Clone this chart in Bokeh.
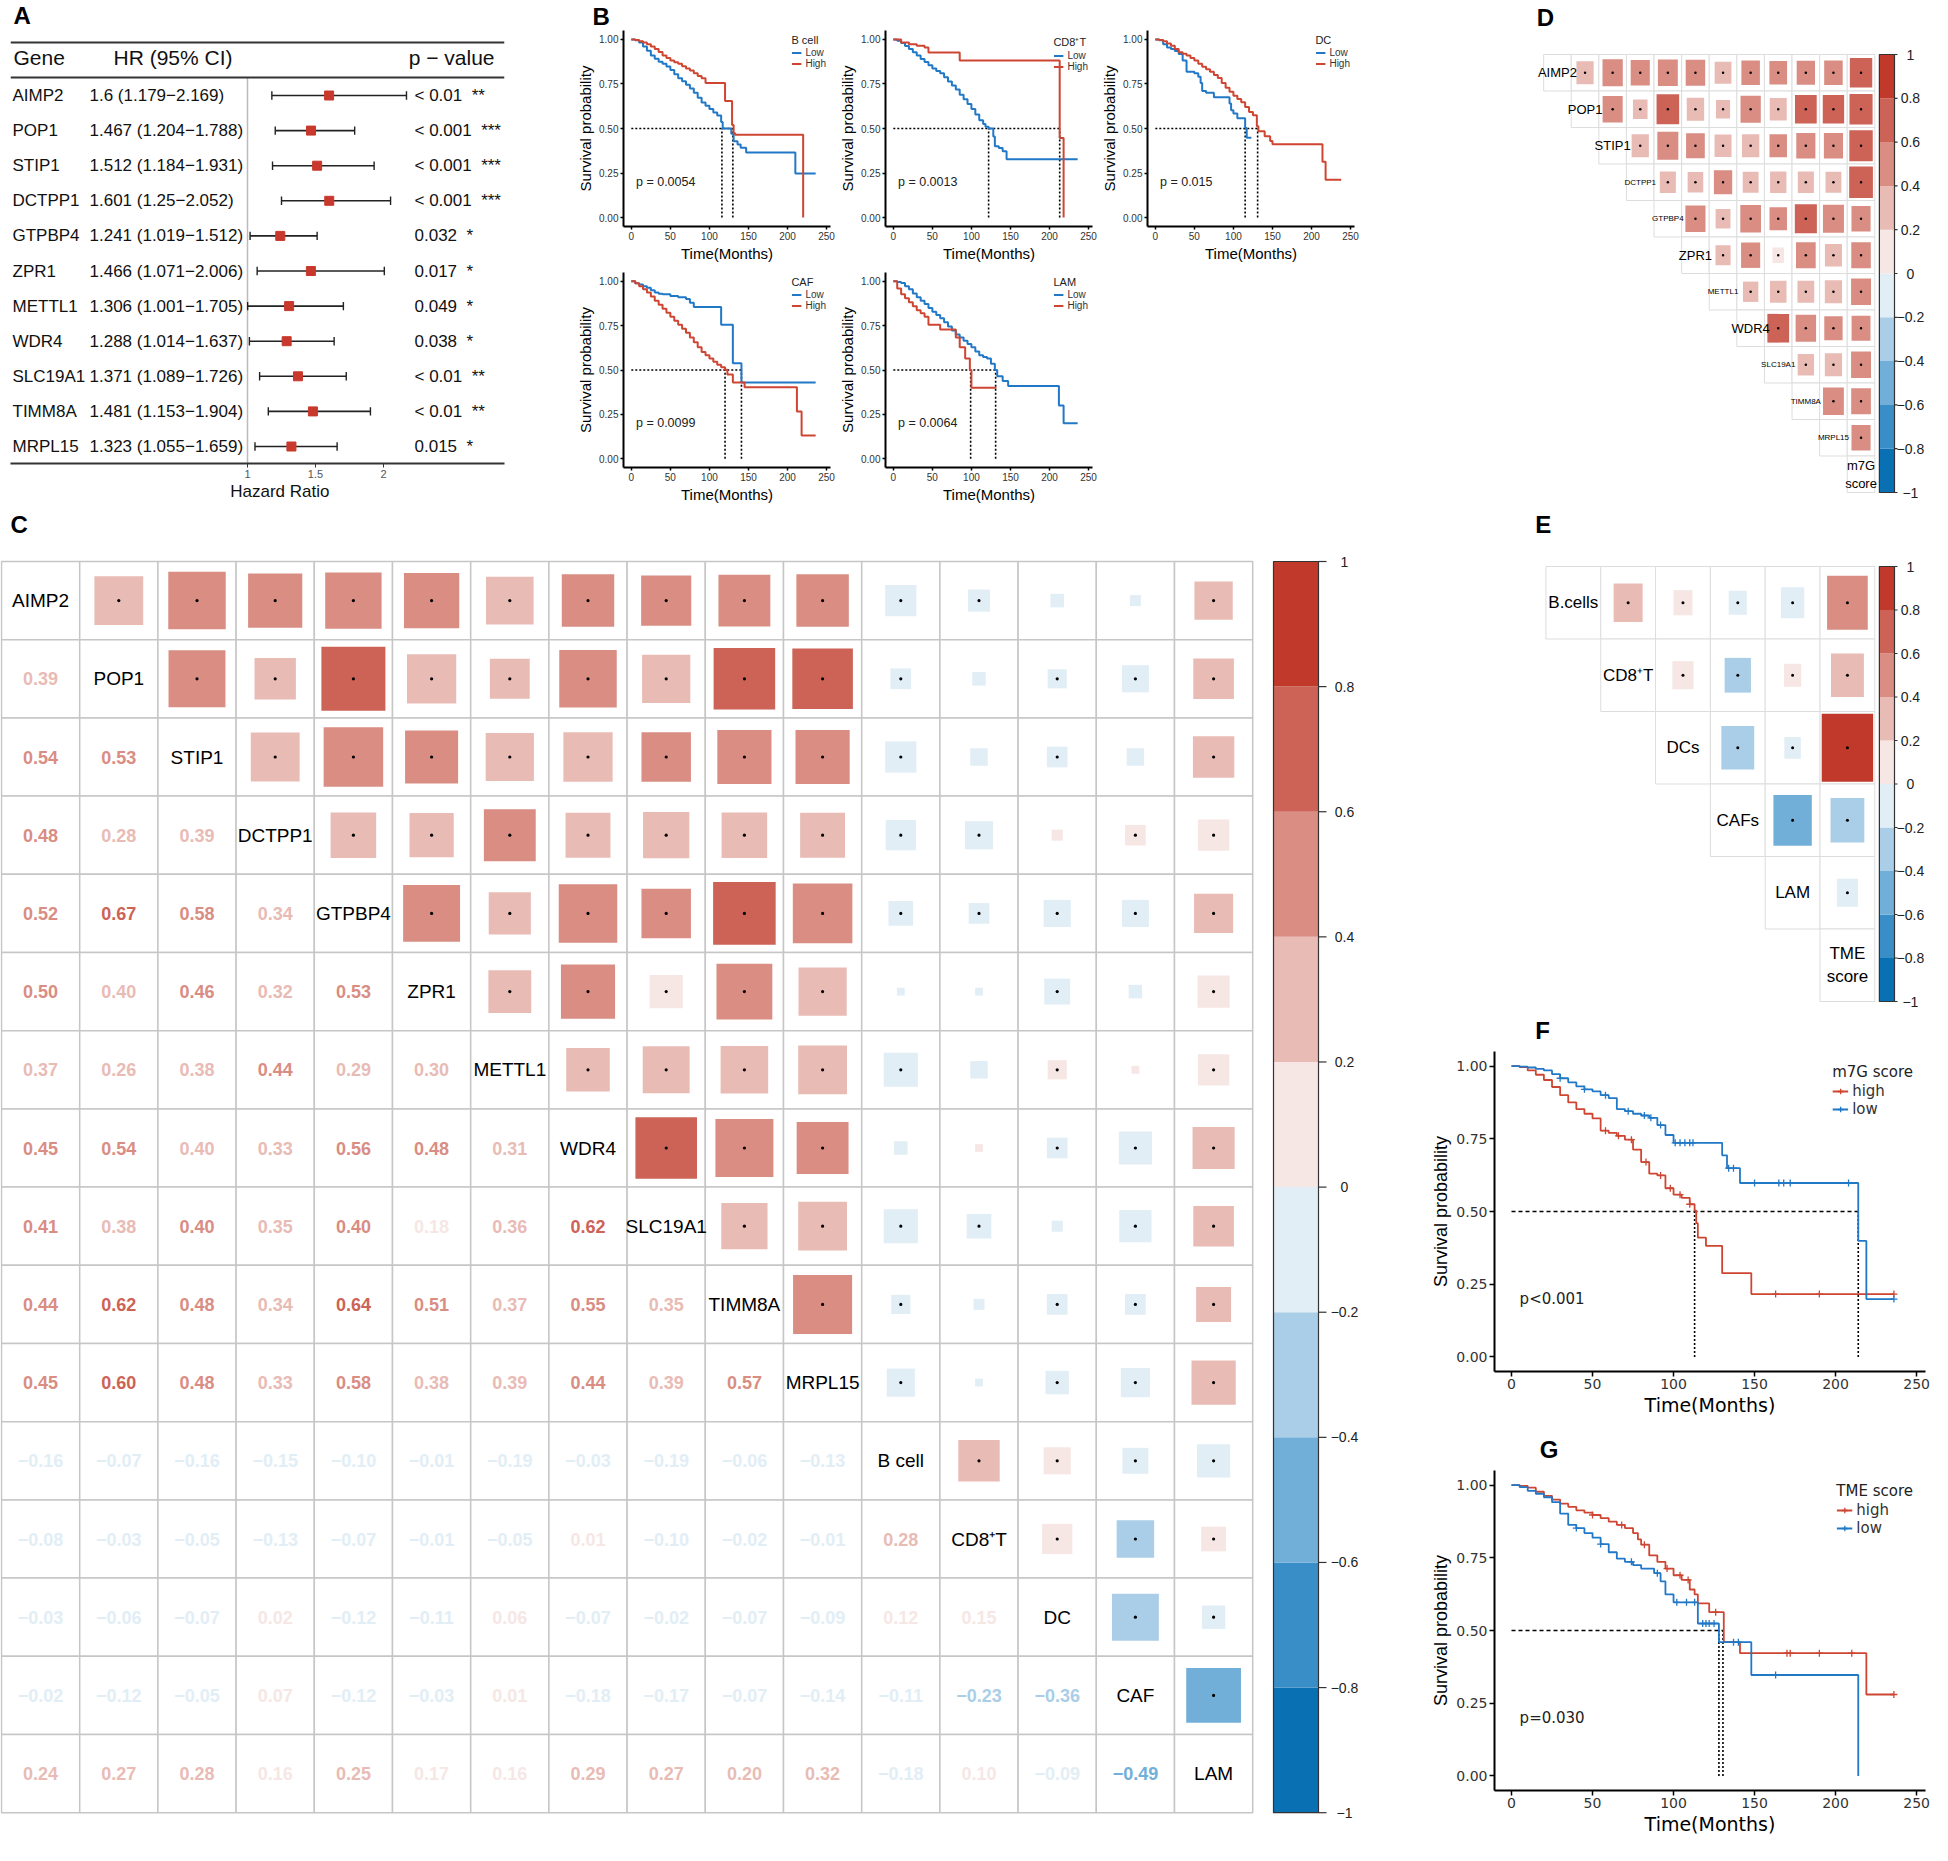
import numpy as np
from bokeh.plotting import figure
from bokeh.models import Range1d, FixedTicker, PrintfTickFormatter, Legend, LegendItem, Span
from bokeh.layouts import row, column
from bokeh.embed import file_html
from bokeh.resources import INLINE
from bokeh.core.properties import value

SANS = "Liberation Sans"
WIDE = "DejaVu Sans"
RED = "#CE4532"
BLUE = "#2178C6"

# ============================ DATA ============================
# Panel A (forest plot)
genes = ["AIMP2", "POP1", "STIP1", "DCTPP1", "GTPBP4", "ZPR1", "METTL1", "WDR4", "SLC19A1", "TIMM8A", "MRPL15"]
hr = [1.6, 1.467, 1.512, 1.601, 1.241, 1.466, 1.306, 1.288, 1.371, 1.481, 1.323]
hr_low = [1.179, 1.204, 1.184, 1.25, 1.019, 1.071, 1.001, 1.014, 1.089, 1.153, 1.055]
hr_high = [2.169, 1.788, 1.931, 2.052, 1.512, 2.006, 1.705, 1.637, 1.726, 1.904, 1.659]
p_labels = ["< 0.01", "< 0.001", "< 0.001", "< 0.001", "0.032", "0.017", "0.049", "0.038", "< 0.01", "< 0.01", "0.015"]
p_stars = ["**", "***", "***", "***", "*", "*", "*", "*", "**", "**", "*"]
hr_ticks = [1, 1.5, 2]

# Panel B (Kaplan-Meier by cell type), (time, survival) step points
km_bcell_low = ([0, 5, 10, 15, 20, 25, 30, 35, 40, 45, 50, 55, 60, 65, 70, 75, 80, 85, 90, 95, 100, 105, 110, 115, 117, 128, 131, 136, 140, 147, 210, 236],
                [1.0, 0.995, 0.982, 0.96, 0.936, 0.91, 0.891, 0.875, 0.864, 0.848, 0.828, 0.805, 0.782, 0.765, 0.746, 0.724, 0.70, 0.672, 0.646, 0.628, 0.61, 0.59, 0.573, 0.537, 0.50, 0.47, 0.428, 0.41, 0.392, 0.365, 0.247, 0.247])
km_bcell_high = ([0, 5, 10, 15, 20, 25, 30, 35, 40, 45, 50, 55, 60, 65, 70, 75, 80, 85, 90, 95, 120, 129, 131, 133, 220],
                 [1.0, 0.997, 0.99, 0.982, 0.973, 0.96, 0.946, 0.93, 0.91, 0.895, 0.882, 0.872, 0.864, 0.85, 0.837, 0.825, 0.81, 0.795, 0.782, 0.755, 0.655, 0.52, 0.474, 0.465, 0.0])
km_cd8_low = ([0, 5, 10, 15, 20, 25, 30, 35, 40, 45, 50, 55, 60, 65, 70, 75, 80, 85, 90, 95, 100, 105, 110, 115, 118, 122, 128, 130, 135, 140, 145, 236],
              [1.0, 0.993, 0.98, 0.963, 0.946, 0.928, 0.91, 0.89, 0.873, 0.855, 0.837, 0.823, 0.81, 0.787, 0.764, 0.742, 0.719, 0.69, 0.664, 0.637, 0.61, 0.578, 0.546, 0.525, 0.51, 0.50, 0.455, 0.40, 0.39, 0.373, 0.328, 0.328])
km_cd8_high = ([0, 10, 20, 30, 40, 45, 85, 213, 218],
               [1.0, 0.982, 0.973, 0.964, 0.955, 0.927, 0.882, 0.446, 0.0])
km_dc_low = ([0, 5, 10, 15, 20, 25, 30, 35, 40, 50, 55, 58, 60, 65, 75, 95, 97, 100, 105, 115, 117, 123],
             [1.0, 0.995, 0.973, 0.955, 0.946, 0.935, 0.918, 0.882, 0.819, 0.81, 0.79, 0.755, 0.71, 0.70, 0.675, 0.64, 0.602, 0.584, 0.557, 0.503, 0.448, 0.448])
km_dc_high = ([0, 5, 10, 15, 20, 25, 30, 35, 40, 45, 50, 55, 60, 65, 70, 75, 80, 85, 90, 95, 100, 105, 110, 115, 120, 125, 130, 132, 140, 147, 150, 214, 218, 238],
              [1.0, 0.997, 0.99, 0.977, 0.964, 0.946, 0.928, 0.92, 0.91, 0.896, 0.882, 0.864, 0.846, 0.832, 0.819, 0.80, 0.783, 0.756, 0.729, 0.706, 0.684, 0.665, 0.647, 0.62, 0.593, 0.575, 0.512, 0.485, 0.457, 0.43, 0.412, 0.313, 0.213, 0.213])
km_caf_low = ([0, 5, 10, 15, 20, 25, 30, 35, 40, 50, 60, 70, 75, 80, 115, 130, 141, 236],
              [1.0, 0.99, 0.982, 0.973, 0.964, 0.95, 0.937, 0.93, 0.928, 0.918, 0.91, 0.90, 0.88, 0.855, 0.755, 0.538, 0.43, 0.43])
km_caf_high = ([0, 5, 10, 15, 20, 25, 30, 35, 40, 45, 50, 55, 60, 65, 70, 75, 80, 85, 90, 95, 100, 105, 110, 115, 120, 123, 130, 145, 212, 218, 236],
               [1.0, 0.99, 0.973, 0.955, 0.937, 0.914, 0.891, 0.868, 0.846, 0.823, 0.80, 0.778, 0.755, 0.732, 0.71, 0.683, 0.656, 0.628, 0.601, 0.583, 0.565, 0.547, 0.529, 0.515, 0.502, 0.475, 0.43, 0.402, 0.266, 0.13, 0.13])
km_lam_low = ([0, 5, 10, 15, 20, 25, 30, 35, 40, 45, 50, 55, 60, 65, 70, 75, 80, 85, 90, 95, 100, 105, 110, 115, 120, 125, 130, 133, 140, 147, 212, 218, 236],
              [1.0, 0.997, 0.991, 0.973, 0.955, 0.932, 0.91, 0.891, 0.873, 0.85, 0.828, 0.81, 0.792, 0.77, 0.746, 0.723, 0.70, 0.683, 0.665, 0.647, 0.628, 0.605, 0.583, 0.574, 0.565, 0.535, 0.50, 0.465, 0.438, 0.41, 0.30, 0.20, 0.20])
km_lam_high = ([0, 5, 10, 15, 20, 25, 30, 35, 40, 45, 60, 80, 85, 92, 98, 100, 132],
               [1.0, 0.96, 0.928, 0.905, 0.882, 0.86, 0.837, 0.82, 0.80, 0.755, 0.728, 0.683, 0.628, 0.565, 0.50, 0.40, 0.40])
b_titles = ["B cell", "CD8\u207aT", "DC", "CAF", "LAM"]
b_pvalues = ["p = 0.0054", "p = 0.0013", "p = 0.015", "p = 0.0099", "p = 0.0064"]
b_medians = [[116, 130], [122, 213], [115, 131], [120, 141], [99, 131]]

# Panel C (correlation matrix, lower triangle)
c_vars = genes + ["B cell", "CD8\u207aT", "DC", "CAF", "LAM"]
c_lower = [
    [],
    [0.39],
    [0.54, 0.53],
    [0.48, 0.28, 0.39],
    [0.52, 0.67, 0.58, 0.34],
    [0.50, 0.397, 0.46, 0.32, 0.53],
    [0.37, 0.26, 0.38, 0.44, 0.29, 0.30],
    [0.45, 0.54, 0.397, 0.33, 0.56, 0.48, 0.31],
    [0.41, 0.38, 0.40, 0.35, 0.40, 0.18, 0.36, 0.62],
    [0.44, 0.62, 0.48, 0.34, 0.64, 0.51, 0.37, 0.55, 0.35],
    [0.45, 0.60, 0.48, 0.33, 0.58, 0.38, 0.39, 0.44, 0.39, 0.57],
    [-0.16, -0.07, -0.16, -0.15, -0.10, -0.01, -0.19, -0.03, -0.19, -0.06, -0.13],
    [-0.08, -0.03, -0.05, -0.13, -0.07, -0.01, -0.05, 0.01, -0.10, -0.02, -0.01, 0.28],
    [-0.03, -0.06, -0.07, 0.02, -0.12, -0.11, 0.06, -0.07, -0.02, -0.07, -0.09, 0.12, 0.15],
    [-0.02, -0.12, -0.05, 0.07, -0.12, -0.03, 0.01, -0.18, -0.17, -0.07, -0.14, -0.11, -0.23, -0.36],
    [0.24, 0.27, 0.28, 0.16, 0.25, 0.17, 0.16, 0.29, 0.27, 0.20, 0.32, -0.18, 0.10, -0.09, -0.49],
]
c_sig_min = 0.055

# Panel D (genes vs m7G score)
d_vars = genes + ["m7G\nscore"]
m7g_corr = [0.66, 0.70, 0.72, 0.74, 0.48, 0.50, 0.52, 0.47, 0.52, 0.51, 0.48]

# Panel E (cells vs TME score)
e_vars = ["B.cells", "CD8\u207aT", "DCs", "CAFs", "LAM", "TME\nscore"]
e_lower = [
    [],
    [0.28],
    [0.12, 0.15],
    [-0.11, -0.23, -0.36],
    [-0.18, 0.10, -0.09, -0.49],
    [0.55, 0.36, 0.88, -0.38, -0.15],
]

# Colour scale
palette = ["#0A70B4", "#3A8EC8", "#72AFD8", "#AACEE7", "#E2EEF6", "#F6E7E5", "#E9BBB5", "#D98D83", "#CD6356", "#C0392B"]
cb_ticks = [1, 0.8, 0.6, 0.4, 0.2, 0, -0.2, -0.4, -0.6, -0.8, -1]

# Panel F (m7G score)
km_m7g_high = ([0, 5, 10, 15, 20, 25, 30, 35, 40, 45, 50, 55, 60, 65, 70, 75, 80, 85, 90, 95, 100, 105, 110, 113, 114, 115, 120, 130, 148, 236],
               [1.0, 0.996, 0.985, 0.97, 0.952, 0.928, 0.90, 0.875, 0.852, 0.836, 0.82, 0.778, 0.77, 0.76, 0.747, 0.713, 0.67, 0.63, 0.624, 0.58, 0.558, 0.547, 0.525, 0.503, 0.46, 0.41, 0.382, 0.288, 0.216, 0.216])
km_m7g_low = ([0, 5, 10, 15, 20, 25, 30, 35, 40, 45, 50, 55, 60, 65, 70, 75, 80, 85, 90, 95, 100, 130, 133, 141, 214, 219, 236],
              [1.0, 0.998, 0.995, 0.99, 0.985, 0.972, 0.958, 0.944, 0.93, 0.92, 0.913, 0.90, 0.89, 0.852, 0.845, 0.836, 0.83, 0.822, 0.797, 0.763, 0.736, 0.693, 0.649, 0.598, 0.399, 0.199, 0.199])
cens_m7g_high = [58, 66, 74, 83, 92, 98, 104, 110, 163, 190, 236]
cens_m7g_low = [30, 45, 58, 72, 82, 86, 92, 101, 104, 107, 110, 112, 134, 137, 150, 165, 168, 172, 208, 236]
f_medians = [113, 214]

# Panel G (TME score)
km_tme_high = ([0, 5, 10, 15, 20, 25, 30, 35, 40, 45, 50, 55, 60, 65, 70, 75, 78, 80, 85, 90, 95, 100, 105, 110, 113, 115, 122, 131, 141, 219, 236],
               [1.0, 0.997, 0.991, 0.977, 0.963, 0.95, 0.936, 0.925, 0.913, 0.905, 0.897, 0.886, 0.874, 0.863, 0.852, 0.835, 0.813, 0.795, 0.758, 0.736, 0.713, 0.69, 0.674, 0.641, 0.624, 0.593, 0.563, 0.46, 0.422, 0.28, 0.28])
km_tme_low = ([0, 5, 10, 15, 20, 25, 30, 35, 40, 45, 50, 55, 60, 65, 70, 75, 80, 88, 92, 95, 100, 115, 128, 148, 214],
              [1.0, 0.993, 0.98, 0.97, 0.958, 0.941, 0.902, 0.863, 0.852, 0.835, 0.819, 0.797, 0.769, 0.747, 0.736, 0.725, 0.713, 0.697, 0.669, 0.624, 0.597, 0.524, 0.46, 0.347, 0.0])
cens_tme_high = [50, 68, 82, 96, 104, 109, 126, 170, 172, 190, 210, 236]
cens_tme_low = [40, 55, 74, 90, 102, 108, 113, 118, 120, 122, 125, 137, 140, 163]
g_medians = [128, 130.5]

km_xticks = [0, 50, 100, 150, 200, 250]
km_yticks = [0, 0.25, 0.5, 0.75, 1.0]


# ============================ HELPERS ============================
def lin(p0, p1, v0, v1):
    s = (v1 - v0) / (p1 - p0)
    return lambda px: v0 + (px - p0) * s


def base_fig(W, H, xr, yr, **kw):
    p = figure(width=W, height=H, x_range=Range1d(*xr), y_range=Range1d(*yr),
               toolbar_location=None, output_backend="svg", **kw)
    p.grid.visible = False
    p.outline_line_color = None
    return p


def txt(p, x, y, t, size, font=SANS, align="left", color="#111111", style="normal", baseline="middle"):
    p.text(x=x, y=y, text=t, text_font=value(font), text_font_size=size, text_align=align,
           text_baseline=baseline, text_color=color, text_font_style=style)


def letter(p, x, y, t):
    txt(p, [x], [y], [t], "24px", color="black", style="bold")


def strip(W, H):
    # a blank canvas whose data units are pixels, used for panel letters / free labels
    return base_fig(W, H, (0, W), (H, 0), min_border=0, x_axis_location=None, y_axis_location=None)


def corr_color(r):
    k = int(np.floor((r + 1.0) / 0.2 + 1e-9))
    return palette[min(max(k, 0), len(palette) - 1)]


def fmt(v, spec):
    return format(v, spec).replace("-", "\u2212")


def sym(lower):
    n = len(lower)
    M = np.eye(n)
    for i, vals in enumerate(lower):
        for j, v in enumerate(vals):
            M[i, j] = M[j, i] = v
    return M


def draw_corr(p, names, M, full_grid, grid_color, grid_w, name_sizes, dot_size, sig_min, numbers=None):
    n = len(names)
    gx, gy = [], []
    for i in range(n):
        for j in range(n):
            if full_grid or j >= i:
                gx.append(j + 0.5)
                gy.append(i + 0.5)
    p.rect(gx, gy, width=1, height=1, fill_color="white", line_color=grid_color, line_width=grid_w)
    sx, sy, ss, sc, dx, dy = [], [], [], [], [], []
    for i in range(n):
        for j in range(i + 1, n):
            r = M[i, j]
            sx.append(j + 0.5)
            sy.append(i + 0.5)
            ss.append(min(np.sqrt(abs(r)), 0.97))
            sc.append(corr_color(r))
            if abs(r) >= sig_min:
                dx.append(j + 0.5)
                dy.append(i + 0.5)
    p.rect(sx, sy, width=ss, height=ss, fill_color=sc, line_color=None)
    p.scatter(dx, dy, size=dot_size, marker="circle", fill_color="black", line_color=None)
    txt(p, [i + 0.5 for i in range(n)], [i + 0.5 for i in range(n)], names, name_sizes, align="center",
        color="black")
    if numbers:
        nx, ny, nt, nc = [], [], [], []
        for i in range(n):
            for j in range(i):
                r = M[i, j]
                nx.append(j + 0.5)
                ny.append(i + 0.5)
                nt.append(fmt(r, ".2f"))
                nc.append(corr_color(r))
        p.text(x=nx, y=ny, text=nt, text_color=nc, text_font=value(SANS), text_font_size=numbers,
               text_font_style="bold", text_align="center", text_baseline="middle")


def colorbar(p, x0, x1, ytop, ybot, xt, xl, fs):
    def vy(v):
        return ytop + (1 - v) / 2 * (ybot - ytop)
    edges = sorted(cb_ticks)
    yc = [(vy(edges[k]) + vy(edges[k + 1])) / 2 for k in range(len(palette))]
    hh = [abs(vy(edges[k]) - vy(edges[k + 1])) for k in range(len(palette))]
    p.rect(x=[(x0 + x1) / 2] * len(palette), y=yc, width=x1 - x0, height=hh, fill_color=palette, line_color=None)
    p.rect(x=[(x0 + x1) / 2], y=[(ytop + ybot) / 2], width=x1 - x0, height=ybot - ytop, fill_color=None,
           line_color="#333333", line_width=1.2)
    ty = [vy(v) for v in cb_ticks]
    p.segment(x0=[x1] * len(ty), y0=ty, x1=[xt] * len(ty), y1=ty, line_color="#333333", line_width=1.2)
    txt(p, [xl] * len(ty), ty, [fmt(v, "g") for v in cb_ticks], fs, align="center", color="#222222")


def heat_fig(W, H, X0, Y0, cell):
    xm = lin(X0, X0 + cell, 0, 1)
    ym = lin(Y0, Y0 + cell, 0, 1)
    p = base_fig(W, H, (xm(0), xm(W)), (ym(H), ym(0)), min_border=0, x_axis_location=None, y_axis_location=None)
    return p, xm, ym


def km_panel(W, H, bl, br, bt, bb, xr, curves, medians, ptext, ppos, title, st):
    p = base_fig(W, H, xr, (-0.05, 1.05), min_border_left=bl, min_border_right=br,
                 min_border_top=bt, min_border_bottom=bb)
    for ax in (p.xaxis[0], p.yaxis[0]):
        ax.axis_line_width = st["axw"]
        ax.axis_line_color = "black"
        ax.major_tick_line_color = "black"
        ax.major_tick_line_width = st["axw"] * 0.75
        ax.major_tick_out = st["tick"]
        ax.major_tick_in = 0
        ax.minor_tick_out = 0
        ax.minor_tick_in = 0
        ax.major_label_text_font = st["font"]
        ax.major_label_text_font_size = st["tick_size"]
        ax.major_label_text_color = "#333333"
        ax.major_label_standoff = 2
        ax.axis_label_text_font_style = "normal"
        ax.axis_label_text_color = "black"
        ax.axis_label_standoff = 2
    p.xaxis.ticker = FixedTicker(ticks=km_xticks)
    p.yaxis.ticker = FixedTicker(ticks=km_yticks)
    p.yaxis.formatter = PrintfTickFormatter(format="%.2f")
    p.xaxis.axis_label = "Time(Months)"
    p.yaxis.axis_label = "Survival probability"
    p.xaxis.axis_label_text_font = st["font"]
    p.xaxis.axis_label_text_font_size = st["xlab_size"]
    p.yaxis.axis_label_text_font = SANS
    p.yaxis.axis_label_text_font_size = st["ylab_size"]
    # median lines
    p.segment(x0=[0], y0=[0.5], x1=[max(medians)], y1=[0.5], line_color="black", line_width=st["med_w"],
              line_dash=st["med_dash"])
    p.segment(x0=medians, y0=[0] * len(medians), x1=medians, y1=[0.5] * len(medians), line_color="black",
              line_width=st["med_w"], line_dash="2 2")
    items = []
    for lab, (t, s), col, cens in curves:
        r = p.step(t, s, mode="after", line_color=col, line_width=st["lw"])
        rs = [r]
        if cens is not None:
            idx = np.searchsorted(np.array(t), np.array(cens), side="right") - 1
            cy = [s[k] for k in idx]
            rs.append(p.scatter(cens, cy, marker="cross", size=7, line_color=col, line_width=1.3))
        items.append(LegendItem(label=lab, renderers=rs))
    leg = Legend(items=items, title=title, location="top_right", margin=st["leg_margin"], padding=0, spacing=0,
                 label_standoff=4, glyph_width=st["gw"], glyph_height=st["gh"], label_height=st["gh"],
                 label_text_font=st["font"], label_text_font_size=st["leg_size"], label_text_color="#333333",
                 title_text_font=st["font"], title_text_font_size=st["leg_title"], title_text_font_style="normal",
                 title_text_color="#222222", title_standoff=1, background_fill_alpha=0, border_line_alpha=0,
                 label_text_line_height=1.0)
    p.add_layout(leg)
    txt(p, [ppos[0]], [ppos[1]], [ptext], st["p_size"], font=st["font"], color="#222222")
    return p


# ============================ PANEL A ============================
xa = lin(247, 383, 1.0, 2.0)
ya = lin(95, 130.1, 0.0, 1.0)
fa = base_fig(574, 482, (xa(10), xa(504)), (ya(463), ya(0)), min_border_left=10, min_border_right=70,
              min_border_top=0, min_border_bottom=19, y_axis_location=None)
axa = fa.xaxis[0]
axa.ticker = FixedTicker(ticks=hr_ticks)
axa.axis_line_width = 2
axa.axis_line_color = "#333333"
axa.major_tick_out = 4
axa.major_tick_in = 0
axa.major_tick_line_color = "#333333"
axa.minor_tick_out = 0
axa.minor_tick_in = 0
axa.major_label_text_font = SANS
axa.major_label_text_font_size = "11px"
axa.major_label_text_color = "#555555"
axa.major_label_standoff = 2
for py in (42, 77):
    fa.add_layout(Span(location=ya(py), dimension="width", line_color="#333333", line_width=2))
nrow = len(genes)
rows = list(range(nrow))
fa.segment(x0=[1.0], y0=[ya(77)], x1=[1.0], y1=[ya(463)], line_color="#BBBBBB", line_width=1.5)
fa.segment(x0=hr_low, y0=rows, x1=hr_high, y1=rows, line_color="#222222", line_width=1.6)
cap = 0.12
fa.segment(x0=hr_low, y0=[r - cap for r in rows], x1=hr_low, y1=[r + cap for r in rows], line_color="#222222",
           line_width=1.4)
fa.segment(x0=hr_high, y0=[r - cap for r in rows], x1=hr_high, y1=[r + cap for r in rows], line_color="#222222",
           line_width=1.4)
fa.scatter(hr, rows, marker="square", size=9, fill_color="#C8382C", line_color="#C8382C")
hr_texts = [f"{h:g} ({l:g}\u2212{u:g})" for h, l, u in zip(hr, hr_low, hr_high)]
p_texts = [f"{a}\u00a0\u00a0{b}" for a, b in zip(p_labels, p_stars)]
txt(fa, [xa(12)] * nrow, rows, genes, "17px")
txt(fa, [xa(89)] * nrow, rows, hr_texts, "17px")
txt(fa, [xa(414)] * nrow, rows, p_texts, "17px")
txt(fa, [xa(13)], [ya(57)], ["Gene"], "21px")
txt(fa, [xa(113)], [ya(57)], ["HR (95% CI)"], "21px")
txt(fa, [xa(494)], [ya(57)], ["p \u2212 value"], "21px", align="right")
letter(fa, xa(13), ya(15), "A")
sa = strip(574, 23)
txt(sa, [313], [9], ["Hazard Ratio"], "17px", align="center")
colA = column(fa, sa)

# ============================ PANEL B ============================
stB = dict(font=SANS, tick_size="10px", xlab_size="15px", ylab_size="15px", axw=2, tick=3, lw=2,
           med_w=1.6, med_dash="2 2", leg_margin=4, gw=10, gh=9, leg_size="10px", leg_title="11px",
           p_size="12.5px")
B_W, B_BL, B_BR, B_XR = 262, 46, 6, (-10, 255)
b_curves = [(km_bcell_low, km_bcell_high), (km_cd8_low, km_cd8_high), (km_dc_low, km_dc_high),
            (km_caf_low, km_caf_high), (km_lam_low, km_lam_high)]
bfigs = []
for k in range(5):
    lo, hi = b_curves[k]
    if k < 3:
        H, bt, bb = 234, 0, 38
    else:
        H, bt, bb = 241, 8, 37
    curves = [("Low", lo, BLUE, None), ("High", hi, RED, None)]
    bfigs.append(km_panel(B_W, H, B_BL, B_BR, bt, bb, B_XR, curves, b_medians[k], b_pvalues[k], (6, 0.2),
                          b_titles[k], stB))
sb = strip(3 * B_W, 30)
letter(sb, 18, 16, "B")
bblock = column(sb, row(bfigs[0], bfigs[1], bfigs[2]), row(bfigs[3], bfigs[4]))

# ============================ PANEL C ============================
WC, HC, X0C, Y0C, cellC = 1360, 1338, 1, 56, 78.2
fc, xmc, ymc = heat_fig(WC, HC, X0C, Y0C, cellC)
Mc = sym(c_lower)
nc = len(c_vars)
draw_corr(fc, c_vars, Mc, True, "#C6C6C6", 1.5, "19px", 3.2, c_sig_min, numbers="18px")
colorbar(fc, xmc(1273), xmc(1318), 0, nc, xmc(1326), xmc(1344), "14px")
letter(fc, xmc(10), ymc(19), "C")

# ============================ PANEL D ============================
WD, HD, X0D, Y0D, cellD = 570, 505, 65, 54, 36.5
fd, xmd, ymd = heat_fig(WD, HD, X0D, Y0D, cellD)
nd = len(d_vars)
Md = np.eye(nd)
Md[:nd - 1, :nd - 1] = Mc[:nd - 1, :nd - 1]
Md[:nd - 1, nd - 1] = m7g_corr
Md[nd - 1, :nd - 1] = m7g_corr
d_sizes = ["13px" if max(len(s) for s in nm.split("\n")) <= 5 else "8px" for nm in d_vars]
draw_corr(fd, d_vars, Md, False, "#DDDDDD", 1, d_sizes, 2.5, 0.0)
colorbar(fd, xmd(509), xmd(529), 0, nd, xmd(533), xmd(550), "14px")
letter(fd, xmd(56), ymd(17), "D")

# ============================ PANEL E ============================
WE, HE, X0E, Y0E, cellE = 570, 510, 68, 61, 72.5
fe, xme, yme = heat_fig(WE, HE, X0E, Y0E, cellE)
Me = sym(e_lower)
ne = len(e_vars)
draw_corr(fe, e_vars, Me, False, "#DDDDDD", 1, "17px", 3, 0.0)
colorbar(fe, xme(509), xme(529), 0, ne, xme(533), xme(550), "14px")
letter(fe, xme(54), yme(19), "E")

# ============================ PANELS F, G ============================
stF = dict(font=WIDE, tick_size="14px", xlab_size="19px", ylab_size="18px", axw=2, tick=5, lw=1.8,
           med_w=1.6, med_dash="4 3", leg_margin=12, gw=16, gh=14, leg_size="15px", leg_title="15px",
           p_size="15px")
FG_XR = (-10.5, 255.5)
sf = strip(570, 30)
letter(sf, 54, 15, "F")
ff = km_panel(570, 380, 134, 5, 6, 54, FG_XR,
              [("high", km_m7g_high, RED, cens_m7g_high), ("low", km_m7g_low, BLUE, cens_m7g_low)],
              f_medians, "p<0.001", (5, 0.2), "m7G score", stF)
sg = strip(570, 38)
letter(sg, 60, 24, "G")
fg = km_panel(570, 380, 134, 5, 7, 53, FG_XR,
              [("high", km_tme_high, RED, cens_tme_high), ("low", km_tme_low, BLUE, cens_tme_low)],
              g_medians, "p=0.030", (5, 0.2), "TME score", stF)

# ============================ LAYOUT ============================
left = column(row(colA, bblock), fc)
right = column(fd, fe, sf, ff, sg, fg)
page = row(left, right)

open("out.html", "w").write(file_html(page, INLINE))
